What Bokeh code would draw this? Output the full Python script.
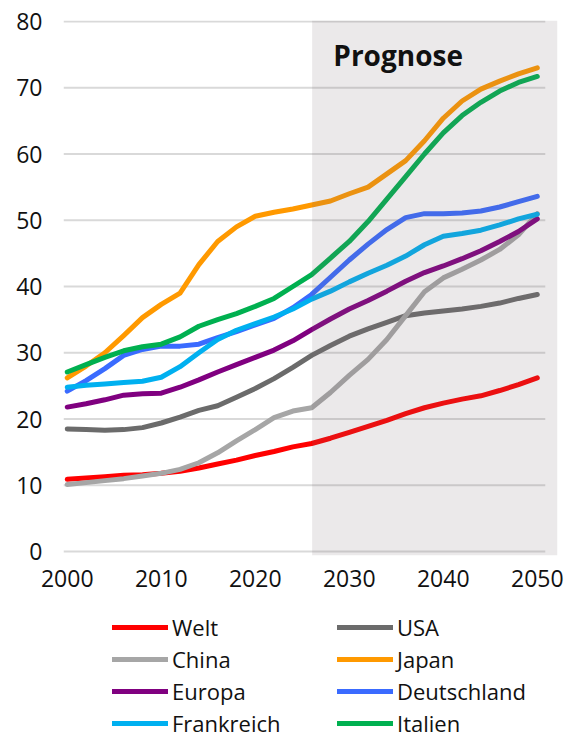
from bokeh.plotting import figure
from bokeh.layouts import column
from bokeh.models import Range1d, FixedTicker, BoxAnnotation, Label, Legend, LegendItem
from bokeh.embed import file_html
from bokeh.resources import INLINE

years = [2000, 2002, 2004, 2006, 2008, 2010, 2012, 2014, 2016, 2018, 2020, 2022, 2024,
         2026, 2028, 2030, 2032, 2034, 2036, 2038, 2040, 2042, 2044, 2046, 2048, 2050]

welt = [10.9, 11.1, 11.3, 11.5, 11.6, 11.8, 12.1, 12.6, 13.2, 13.8, 14.5, 15.1, 15.8,
        16.3, 17.1, 18.0, 18.9, 19.8, 20.8, 21.7, 22.4, 23.0, 23.5, 24.3, 25.2, 26.2]
usa = [18.5, 18.4, 18.3, 18.4, 18.7, 19.4, 20.3, 21.3, 22.0, 23.3, 24.6, 26.1, 27.8,
       29.6, 31.1, 32.5, 33.6, 34.6, 35.6, 36.0, 36.3, 36.6, 37.0, 37.5, 38.2, 38.8]
china = [10.1, 10.4, 10.7, 11.0, 11.4, 11.8, 12.4, 13.4, 14.9, 16.7, 18.4, 20.2, 21.2,
         21.7, 24.0, 26.6, 29.0, 32.0, 35.6, 39.2, 41.3, 42.6, 44.0, 45.6, 47.8, 51.0]
japan = [26.2, 28.0, 30.0, 32.6, 35.3, 37.3, 39.0, 43.3, 46.8, 49.0, 50.6, 51.2, 51.7,
         52.3, 52.9, 54.0, 55.0, 57.0, 59.0, 62.0, 65.4, 68.0, 69.8, 71.0, 72.1, 73.0]
europa = [21.8, 22.3, 22.9, 23.6, 23.8, 23.9, 24.8, 25.9, 27.1, 28.2, 29.3, 30.4, 31.8,
          33.5, 35.1, 36.6, 37.9, 39.3, 40.8, 42.1, 43.1, 44.2, 45.4, 46.8, 48.3, 50.2]
deutschland = [24.2, 25.8, 27.6, 29.6, 30.5, 31.0, 31.0, 31.3, 32.3, 33.2, 34.2, 35.2, 36.8,
               38.8, 41.4, 44.0, 46.4, 48.6, 50.4, 51.0, 51.0, 51.1, 51.4, 52.0, 52.8, 53.6]
frankreich = [24.8, 25.1, 25.3, 25.5, 25.7, 26.3, 27.9, 30.0, 32.0, 33.4, 34.4, 35.4, 36.6,
              38.1, 39.3, 40.7, 42.0, 43.2, 44.6, 46.3, 47.6, 48.0, 48.5, 49.3, 50.2, 50.9]
italien = [27.1, 28.2, 29.3, 30.3, 30.9, 31.3, 32.4, 34.0, 35.0, 35.9, 37.0, 38.2, 40.0,
           41.8, 44.3, 46.8, 49.8, 53.2, 56.6, 60.0, 63.2, 65.8, 67.8, 69.5, 70.8, 71.7]

names = ["Welt", "USA", "China", "Japan", "Europa", "Deutschland", "Frankreich", "Italien"]
values = [welt, usa, china, japan, europa, deutschland, frankreich, italien]
colors = ["#ff0000", "#6b6b6b", "#a6a6a6", "#ff9900", "#800080", "#3a6bff", "#00b0f0", "#00b050"]

y_ticks = [0, 10, 20, 30, 40, 50, 60, 70, 80]
x_ticks = [2000, 2010, 2020, 2030, 2040, 2050]
forecast_start = 2026.05
prognose_label = "Prognose"

FONT = "Open Sans"

p = figure(width=574, height=600, output_backend="svg", toolbar_location=None,
           x_range=Range1d(1999.6, 2052.15), y_range=Range1d(-0.6, 80.15),
           min_border_left=63, min_border_right=17, min_border_top=20,
           min_border_bottom=45)
p.outline_line_color = None
p.background_fill_color = "white"
p.xgrid.visible = False
p.ygrid.visible = False

# horizontal gridlines (shorter than the shaded area)
grid_x0 = 1999.6
grid_x1 = 2050.85
p.segment(x0=[grid_x0] * len(y_ticks), y0=y_ticks, x1=[grid_x1] * len(y_ticks), y1=y_ticks,
          line_color="#d9d9d9", line_width=2)

for ax in (p.xaxis[0], p.yaxis[0]):
    ax.axis_line_color = None
    ax.major_tick_line_color = None
    ax.minor_tick_line_color = None
    ax.major_tick_out = 0
    ax.major_tick_in = 0
    ax.major_label_text_font = FONT
    ax.major_label_text_font_size = "23px"
    ax.major_label_text_color = "#111111"
p.xaxis.ticker = FixedTicker(ticks=x_ticks)
p.yaxis.ticker = FixedTicker(ticks=y_ticks)
p.xaxis.major_label_standoff = 14
p.yaxis.major_label_standoff = 21

for name, vals, col in zip(names, values, colors):
    p.line(years, vals, line_color=col, line_width=5, line_cap="round", line_join="round")

box = BoxAnnotation(left=forecast_start, fill_color="#786a6f", fill_alpha=0.15,
                    line_color=None)
p.add_layout(box)

lab = Label(x=2028.3, y=74.9, text=prognose_label, text_font=FONT, text_font_size="28px",
            text_font_style="bold", text_color="#111111", text_baseline="alphabetic")
p.add_layout(lab)

# legend panel below the chart (its lines lie outside its visible range)
p2 = figure(width=574, height=138, output_backend="svg", toolbar_location=None,
            x_axis_location=None, y_axis_location=None, min_border=0,
            x_range=Range1d(0, 1), y_range=Range1d(0, 1))
p2.outline_line_color = None
p2.xgrid.visible = False
p2.ygrid.visible = False

items = []
for name, vals, col in zip(names, values, colors):
    r = p2.line(years, vals, line_color=col, line_width=5, line_cap="round")
    items.append(LegendItem(label=name, renderers=[r]))

legend = Legend(items=items, orientation="horizontal", ncols=2,
                label_text_font=FONT, label_text_font_size="22px", label_text_color="#111111",
                glyph_width=56, glyph_height=26, label_standoff=4, spacing=2,
                label_width=163, padding=0, margin=0, border_line_color=None,
                background_fill_alpha=0, location=(49, 0))
p2.add_layout(legend)

open("out.html", "w").write(file_html(column(p, p2, spacing=0), INLINE))
